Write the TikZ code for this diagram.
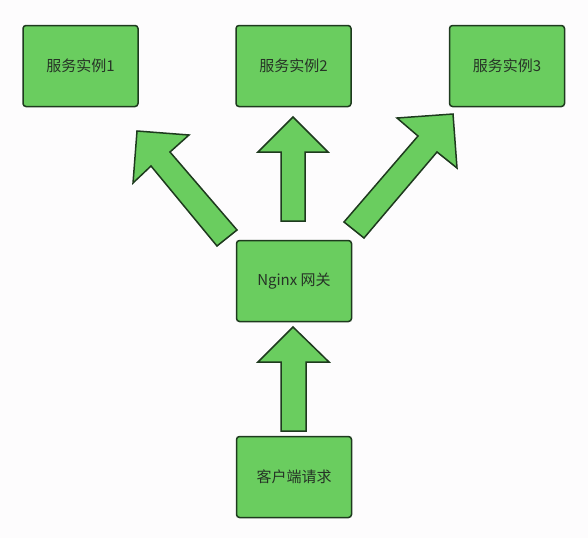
\documentclass[tikz,border=0pt]{standalone}
\usepackage{fontspec}
\setmainfont{Noto Sans CJK SC}
\definecolor{boxfill}{HTML}{6ACD5F}
\definecolor{boxline}{HTML}{1E3A1E}
\definecolor{txt}{HTML}{263326}
\definecolor{bg}{HTML}{FDFCFD}
\begin{document}
\begin{tikzpicture}[x=1pt,y=-1pt,
  box/.style={draw=boxline,fill=boxfill,line width=1.5pt,rounded corners=3pt,
    minimum width=115pt,minimum height=81pt,inner sep=0pt,
    font=\fontsize{15pt}{18pt}\selectfont,text=txt},
  blockarrow/.style={draw=boxline,fill=boxfill,line width=1.5pt,line join=miter}]
\fill[bg] (0,0) rectangle (588,538);
\useasboundingbox (0,0) rectangle (588,538);
\node[box] (s1) at (80.5,66) {服务实例1};
\node[box] (s2) at (293.5,66) {服务实例2};
\node[box] (s3) at (507,66) {服务实例3};
\node[box] (ng) at (294,281) {Nginx 网关};
\node[box] (cl) at (294,477) {客户端请求};
% client -> nginx
\draw[blockarrow] (281,431) -- (281,362) -- (258,362) -- (293,327) -- (329,362) -- (306,362) -- (306,431) -- cycle;
% nginx -> s2
\draw[blockarrow] (281,221) -- (281,152) -- (258,152) -- (293,117) -- (328,152) -- (305,152) -- (305,221) -- cycle;
% nginx -> s1
\draw[blockarrow] (237,230) -- (170,152) -- (189,135) -- (137,131) -- (133,183) -- (151,166) -- (217,246) -- cycle;
% nginx -> s3
\draw[blockarrow] (344,222) -- (418,136) -- (397,118) -- (453,114) -- (457,168) -- (437,152) -- (364,238) -- cycle;
\end{tikzpicture}
\end{document}
